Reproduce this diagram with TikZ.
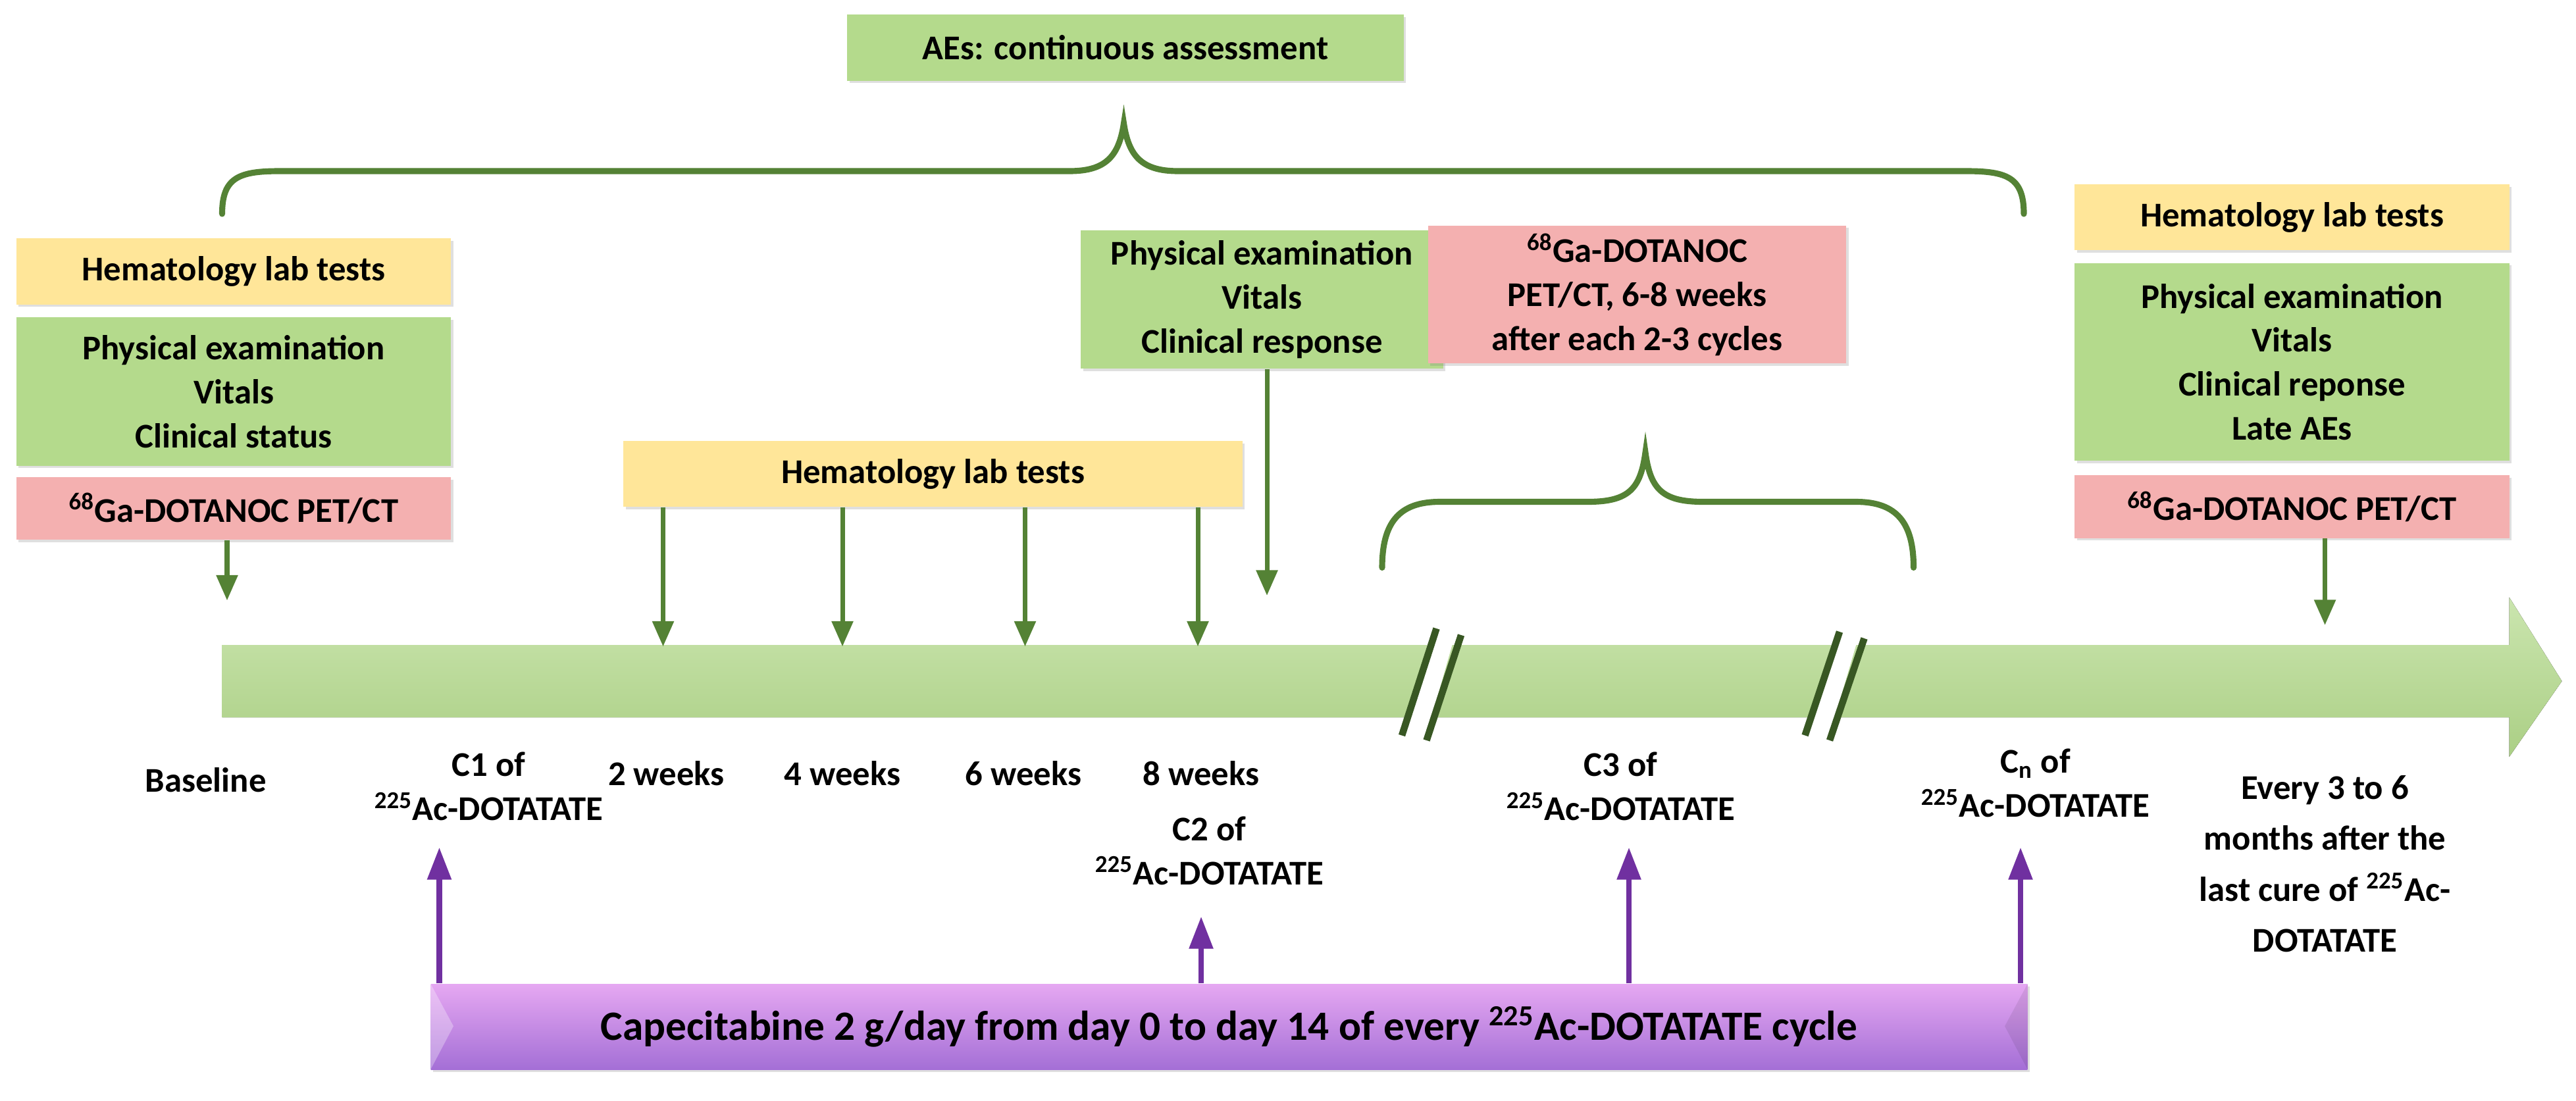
\documentclass[tikz,border=0pt]{standalone}
\usepackage{fontspec}
\setmainfont{Carlito}
\usepackage{tikz}
\usetikzlibrary{arrows.meta}
\usetikzlibrary{shadows}

\definecolor{boxyellow}{HTML}{FFE699}
\definecolor{boxgreen}{HTML}{B4DA8C}
\definecolor{boxpink}{HTML}{F4B0B0}
\definecolor{darkgreen}{HTML}{548235}
\definecolor{breakgreen}{HTML}{385723}
\definecolor{capepurple}{HTML}{7030A0}
\definecolor{capetop}{HTML}{E6A8F2}
\definecolor{capebottom}{HTML}{A46FD6}

\tikzset{
  txt/.style={font=\fontsize{15}{19}\selectfont\bfseries, align=center},
  box/.style={txt, draw=none, minimum width=6.6cm, drop shadow={opacity=0.25, shadow xshift=1pt, shadow yshift=-1pt}},
  yellowbox/.style={box, fill=boxyellow, minimum height=1cm},
  greenbox/.style={box, fill=boxgreen},
  pinkbox/.style={box, fill=boxpink, minimum height=0.95cm},
  garrow/.style={darkgreen, line width=2pt, -{Triangle[length=11pt,width=9pt]}},
  parrow/.style={capepurple, line width=2.4pt, -{Triangle[length=14pt,width=10pt]}},
  brace/.style={darkgreen, line width=2.6pt, line cap=round},
  breakline/.style={breakgreen, line width=3pt}
}
\newcommand{\sups}[1]{\textsuperscript{#1}}

\begin{document}
\begin{tikzpicture}[x=0.025cm, y=-0.025cm]
        \useasboundingbox (0,0) rectangle (1565.6,668.8);

        % top box and brace
        \node[greenbox, minimum width=8.45cm, minimum height=1cm] (aes) at (684,29) {AEs: continuous assessment};
        \draw[brace] (135,130) .. controls (135,108) and (145,104) .. (170,104) -- (650,104)
                .. controls (672,104) and (680,95) .. (683,75)
                .. controls (686,95) and (694,104) .. (716,104) -- (1195,104)
                .. controls (1220,104) and (1230,108) .. (1230,130);

        % baseline column
        \node[yellowbox] (hemA) at (142,165) {Hematology lab tests};
        \node[greenbox, minimum height=2.25cm] (physA) at (142,238) {Physical examination\\Vitals\\Clinical status};
        \node[pinkbox] (petA) at (142,309) {\sups{68}Ga-DOTANOC PET/CT};

        % hematology at 2-8 weeks
        \node[yellowbox, minimum width=9.4cm] (hemB) at (567,288) {Hematology lab tests};
        \node[greenbox, minimum width=5.5cm, minimum height=2.1cm] (physB) at (767,182) {Physical examination\\Vitals\\Clinical response};
        \node[pinkbox, minimum width=6.35cm, minimum height=1.85cm] (petB) at (995,179) {\sups{68}Ga-DOTANOC\\PET/CT, 6-8 weeks\\after each 2-3 cycles};
        \draw[brace] (840,345) .. controls (840,318) and (850,305) .. (875,305) -- (965,305)
                .. controls (990,305) and (997,297) .. (1000,275)
                .. controls (1003,297) and (1010,305) .. (1035,305) -- (1128,305)
                .. controls (1153,305) and (1163,318) .. (1163,345);

        % follow-up column
        \node[yellowbox] (hemC) at (1393,132) {Hematology lab tests};
        \node[greenbox, minimum height=3cm] (physC) at (1393,220) {Physical examination\\Vitals\\Clinical reponse\\Late AEs};
        \node[pinkbox] (petC) at (1393,308) {\sups{68}Ga-DOTANOC PET/CT};

        % timeline
        \fill[top color=boxgreen!70, bottom color=boxgreen!95!black] (135,392) -- (1525,392) -- (1525,363) -- (1557,414) -- (1525,460) -- (1525,436) -- (135,436) -- cycle;
        \fill[white] (871,380) -- (886,380) -- (866,450) -- (851,450) -- cycle;
        \draw[breakline] (873,382) -- (852,447) (888,386) -- (867,450);
        \fill[white] (1116,382) -- (1131,382) -- (1111,450) -- (1096,450) -- cycle;
        \draw[breakline] (1118,384) -- (1097,447) (1133,388) -- (1112,450);

        \coordinate (tBase) at (138,365);
        \coordinate (tW2) at (403,393);
        \coordinate (tW4) at (512,393);
        \coordinate (tW6) at (623,393);
        \coordinate (tW8) at (728,393);
        \coordinate (tResp) at (770,362);
        \coordinate (tLast) at (1413,380);

        \draw[garrow] (petA.south -| tBase) -- (tBase);
        \foreach \c in {tW2,tW4,tW6,tW8} \draw[garrow] (hemB.south -| \c) -- (\c);
        \draw[garrow] (physB.south -| tResp) -- (tResp);
        \draw[garrow] (petC.south -| tLast) -- (tLast);

        % labels under the timeline
        \node[txt] (lBase) at (125,474) {Baseline};
        \node[txt] (lC1) at (297,478) {C1 of\\\sups{225}Ac-DOTATATE};
        \node[txt] (lW2) at (405,470) {2 weeks};
        \node[txt] (lW4) at (512,470) {4 weeks};
        \node[txt] (lW6) at (622,470) {6 weeks};
        \node[txt] (lW8) at (730,470) {8 weeks};
        \node[txt] (lC2) at (735,517) {C2 of\\\sups{225}Ac-DOTATATE};
        \node[txt] (lC3) at (985,478) {C3 of\\\sups{225}Ac-DOTATATE};
        \node[txt] (lCn) at (1237,476) {C\textsubscript{n} of\\\sups{225}Ac-DOTATATE};
        \node[txt, font=\fontsize{15}{22}\selectfont\bfseries] (lLast) at (1413,525) {Every 3 to 6\\months after the\\last cure of \sups{225}Ac-\\DOTATATE};

        % capecitabine bar
        \node[txt, minimum width=24.25cm, minimum height=1.3cm, top color=capetop, bottom color=capebottom, font=\fontsize{18}{20}\selectfont\bfseries,
              drop shadow={opacity=0.25, shadow xshift=1pt, shadow yshift=-1pt}] (cape) at (747,624)
              {Capecitabine 2 g/day from day 0 to day 14 of every \sups{225}Ac-DOTATATE cycle};
        \fill[white, opacity=0.3] (cape.north west) -- ++(14,26) -- (cape.south west) -- cycle;
        \fill[black, opacity=0.08] (cape.north east) -- ++(-14,26) -- (cape.south east) -- cycle;

        \coordinate (pC1) at (267,515);
        \coordinate (pC2) at (730,557);
        \coordinate (pC3) at (990,515);
        \coordinate (pCn) at (1228,515);
        \foreach \p in {pC1,pC2,pC3,pCn} \draw[parrow] (cape.north -| \p) -- (\p);
\end{tikzpicture}
\end{document}
